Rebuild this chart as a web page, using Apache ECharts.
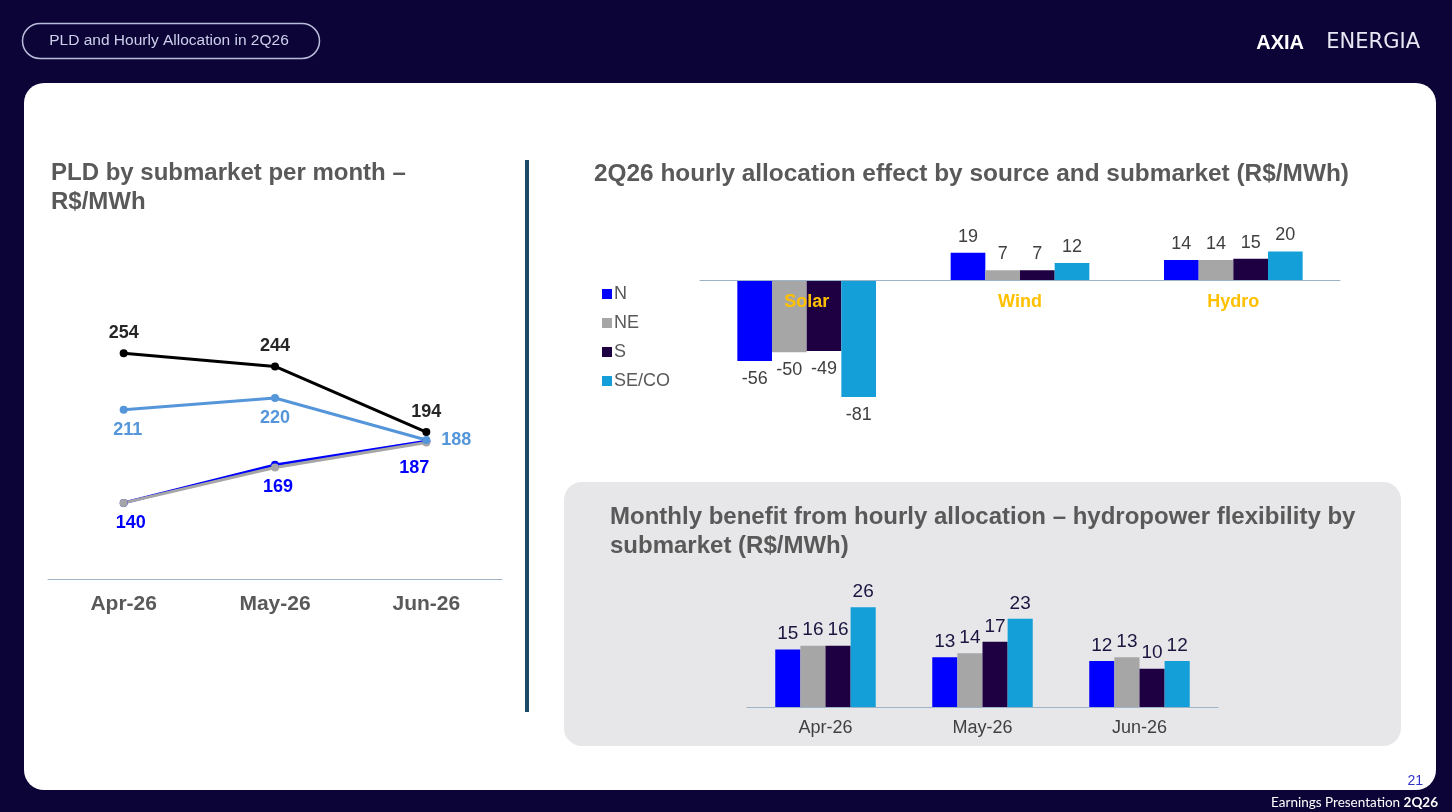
<!DOCTYPE html>
<html>
<head>
<meta charset="utf-8">
<script src="https://cdn.jsdelivr.net/npm/echarts@6/dist/echarts.min.js"></script>
<style>
  html, body { margin: 0; padding: 0; background: #0C0436; }
  #chart { width: 1452px; height: 812px; }
</style>
</head>
<body>
<div id="chart"></div>
<script>
// submarkets
const submarkets = ['N', 'NE', 'S', 'SE/CO'];
const barColors = ['#0000FF', '#A6A6A6', '#1E0042', '#159FD8'];

// PLD by submarket per month (line chart)
const months = ['Apr-26', 'May-26', 'Jun-26'];
const pldN = [140, 169, 187];
const pldNE = [140, 167, 186];
const pldS = [254, 244, 194];
const pldSECO = [211, 220, 188];

// hourly allocation effect by source
const sources = ['Solar', 'Wind', 'Hydro'];
const effN = [-56, 19, 14];
const effNE = [-50, 7, 14];
const effS = [-49, 7, 15];
const effSECO = [-81, 12, 20];

// monthly hydro benefit
const benN = [15, 13, 12];
const benNE = [16, 14, 13];
const benS = [16, 17, 10];
const benSECO = [26, 23, 12];

const FONT = '"Liberation Sans", Arial, sans-serif';
const chart = echarts.init(document.getElementById('chart'));

function signed(vals) {
  return vals.map(v => ({
    value: v,
    label: { position: v < 0 ? 'bottom' : 'top', distance: v < 0 ? 9 : 7 }
  }));
}

const effSeries = [effN, effNE, effS, effSECO].map((d, i) => ({
  name: submarkets[i],
  type: 'bar',
  xAxisIndex: 1, yAxisIndex: 1,
  data: signed(d),
  itemStyle: { color: barColors[i] },
  barGap: '0%',
  barCategoryGap: '35%',
  label: { show: true, color: '#404040', fontSize: 18, fontFamily: FONT }
}));

const benSeries = [benN, benNE, benS, benSECO].map((d, i) => ({
  name: submarkets[i],
  type: 'bar',
  xAxisIndex: 2, yAxisIndex: 2,
  data: d,
  itemStyle: { color: barColors[i] },
  barGap: '0%',
  barCategoryGap: '36%',
  label: { show: true, position: 'top', color: '#1A1640', fontSize: 19, fontFamily: FONT, distance: 6 }
}));

function lineSeries(name, data, color, labelColor, labelPos, offsets) {
  return {
    name: name,
    type: 'line',
    xAxisIndex: 0, yAxisIndex: 0,
    data: data.map((v, j) => ({
      value: v,
      label: labelPos ? {
        position: Array.isArray(labelPos) ? labelPos[j] : labelPos,
        offset: offsets ? offsets[j] : [0, 0]
      } : undefined
    })),
    symbol: 'circle',
    symbolSize: 8,
    lineStyle: { color: color, width: 3 },
    itemStyle: { color: color },
    label: {
      show: !!labelPos, color: labelColor, fontSize: 18, fontWeight: 'bold',
      fontFamily: FONT, distance: 7
    },
    z: 3
  };
}

const lines = [
  lineSeries('N', pldN, '#0000FF', '#0000FF', 'bottom', [[7, 0], [3, 2], [-12, 7]]),
  lineSeries('NE', pldNE, '#A6A6A6', '#A6A6A6', null),
  lineSeries('S', pldS, '#000000', '#262626', 'top', [[0, 0], [0, 0], [0, 0]]),
  lineSeries('SE/CO', pldSECO, '#5596DA', '#5596DA', ['bottom', 'bottom', 'right'], [[4, 0], [0, 0], [4, 0]])
];

const T = (x, y, text, extra) => ({
  type: 'text', x: x, y: y, z: 10,
  style: Object.assign({ text: text, fontFamily: FONT }, extra)
});

const TITLE = { fill: '#595959', fontSize: 24, fontWeight: 'bold', verticalAlign: 'middle' };

const option = {
  animation: false,
  backgroundColor: '#0C0436',
  textStyle: { fontFamily: FONT },
  graphic: [
    { type: 'rect', z: -10, shape: { x: 24, y: 83, width: 1412, height: 707, r: 20 }, style: { fill: '#FFFFFF' } },
    { type: 'rect', z: -10, shape: { x: 22.5, y: 23.5, width: 297, height: 35, r: 17.5 }, style: { fill: 'none', stroke: '#B8BCDA', lineWidth: 1.5 } },
    T(169, 41, 'PLD and Hourly Allocation in 2Q26', { fill: '#CDD0EC', fontSize: 15.5, align: 'center', verticalAlign: 'middle' }),
    T(1304, 43, 'AXIA', { fill: '#FFFFFF', fontSize: 20, fontWeight: 'bold', align: 'right', verticalAlign: 'middle' }),
    T(1420, 43, 'ENERGIA', {
      fill: '#E8E8F4', fontSize: 21, align: 'right', verticalAlign: 'middle',
      fontFamily: '"DejaVu Sans ExtraLight", "DejaVu Sans", sans-serif'
    }),
    T(51, 173, 'PLD by submarket per month –', TITLE),
    T(51, 202, 'R$/MWh', TITLE),
    { type: 'rect', z: -5, shape: { x: 525, y: 160, width: 4, height: 552 }, style: { fill: '#1B4A66' } },
    T(594, 174, '2Q26 hourly allocation effect by source and submarket (R$/MWh)', Object.assign({}, TITLE, { fontSize: 24.4 })),
    { type: 'rect', z: -5, shape: { x: 564, y: 482, width: 837, height: 264, r: 18 }, style: { fill: '#E7E7E9' } },
    T(610, 517, 'Monthly benefit from hourly allocation – hydropower flexibility by', TITLE),
    T(610, 546, 'submarket (R$/MWh)', TITLE),
    T(1423, 781, '21', { fill: '#3333CC', fontSize: 14, align: 'right', verticalAlign: 'middle' }),
    T(1438, 803, '{r|Earnings Presentation }{b|2Q26}', {
      align: 'right', verticalAlign: 'middle',
      rich: {
        r: { fontSize: 13.5, fill: '#FFFFFF', fontFamily: 'Lato, sans-serif' },
        b: { fontSize: 13.5, fill: '#FFFFFF', fontWeight: 'bold', fontFamily: 'Lato, sans-serif' }
      }
    })
  ],
  legend: {
    data: submarkets,
    orient: 'vertical',
    left: 597, top: 280,
    icon: 'rect',
    itemWidth: 10, itemHeight: 10, itemGap: 11,
    textStyle: { color: '#595959', fontSize: 18, fontFamily: FONT, padding: [0, 0, 0, -3] },
    selectedMode: false
  },
  grid: [
    { left: 48, width: 454, top: 293, height: 286 },
    { left: 700, width: 640, top: 237, height: 173 },
    { left: 747, width: 471, top: 592, height: 115 }
  ],
  xAxis: [
    {
      gridIndex: 0, type: 'category', data: months,
      axisLine: { lineStyle: { color: '#9DB3C8', width: 1 } },
      axisTick: { show: false },
      axisLabel: { color: '#595959', fontSize: 21, fontWeight: 'bold', margin: 15 }
    },
    {
      gridIndex: 1, type: 'category', data: sources, z: 10,
      axisLine: { onZero: true, lineStyle: { color: '#9DB3C8', width: 1 } },
      axisTick: { show: false },
      // labels sit just under the zero line, over the bars
      axisLabel: { color: '#FFC000', fontSize: 18, fontWeight: 'bold', margin: -117 }
    },
    {
      gridIndex: 2, type: 'category', data: months,
      axisLine: { lineStyle: { color: '#9DB3C8', width: 1 } },
      axisTick: { show: false },
      axisLabel: { color: '#404040', fontSize: 18, margin: 12 }
    }
  ],
  yAxis: [
    { gridIndex: 0, type: 'value', min: 82, max: 300, show: false, splitLine: { show: false } },
    { gridIndex: 1, type: 'value', min: -90, max: 30, show: false, splitLine: { show: false } },
    { gridIndex: 2, type: 'value', min: 0, max: 30, show: false, splitLine: { show: false } }
  ],
  series: effSeries.concat(benSeries, lines)
};

chart.setOption(option);
</script>
</body>
</html>
